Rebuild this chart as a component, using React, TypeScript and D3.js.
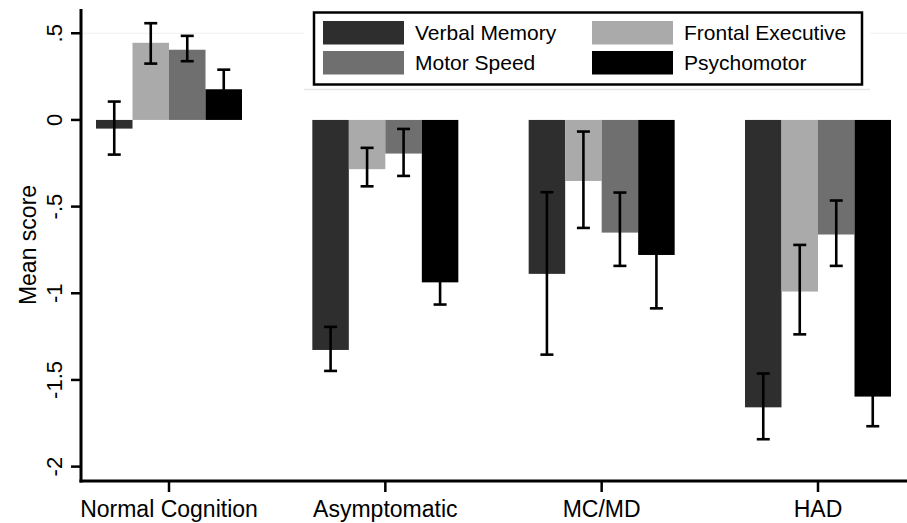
import React from "react";
import * as d3 from "d3";

const categories = ["Normal Cognition", "Asymptomatic", "MC/MD", "HAD"];
const seriesNames = ["Verbal Memory", "Frontal Executive", "Motor Speed", "Psychomotor"];
const seriesColors = ["#2e2e2e", "#aaaaaa", "#6f6f6f", "#000000"];

const verbalMemory = [-0.05, -1.327, -0.888, -1.658];
const frontalExecutive = [0.445, -0.284, -0.352, -0.99];
const motorSpeed = [0.405, -0.194, -0.65, -0.661];
const psychomotor = [0.177, -0.937, -0.779, -1.596];

const verbalMemoryLo = [-0.2, -1.448, -1.354, -1.842];
const verbalMemoryHi = [0.106, -1.194, -0.417, -1.463];
const frontalExecutiveLo = [0.325, -0.383, -0.623, -1.237];
const frontalExecutiveHi = [0.558, -0.161, -0.067, -0.721];
const motorSpeedLo = [0.339, -0.323, -0.842, -0.842];
const motorSpeedHi = [0.485, -0.052, -0.419, -0.465];
const psychomotorLo = [0.065, -1.065, -1.087, -1.767];
const psychomotorHi = [0.29, -0.809, -0.471, -1.425];

const yTicks = [0.5, 0, -0.5, -1, -1.5, -2];
const yTickLabels = [".5", "0", "-.5", "-1", "-1.5", "-2"];

const means = [verbalMemory, frontalExecutive, motorSpeed, psychomotor];
const los = [verbalMemoryLo, frontalExecutiveLo, motorSpeedLo, psychomotorLo];
const his = [verbalMemoryHi, frontalExecutiveHi, motorSpeedHi, psychomotorHi];

const W = 907;
const H = 523;
const font = "'Liberation Sans', Arial, Helvetica, sans-serif";

export default function App() {
  const axisX = 81;
  const axisY = 481;
  const y = d3.scaleLinear().domain([-2.083, 0.64]).range([481, 9]);
  const x0 = d3.scalePoint<string>().domain(categories).range([169, 818]);
  const x1 = d3.scaleBand<string>().domain(seriesNames).range([-73, 73]).padding(0);
  const bw = x1.bandwidth();
  const capW = 13;

  const legendItems = seriesNames.map((n, i) => ({
    name: n,
    color: seriesColors[i],
    col: i === 0 || i === 2 ? 0 : 1,
    row: i < 2 ? 0 : 1,
  }));
  const legSwX = [323, 592];
  const legTxtX = [415, 684];
  const legRowY = [21, 51];

  return (
    <svg
      width={W}
      height={H}
      style={{ position: "absolute", left: 0, top: 0, background: "#fff" }}
      fontFamily={font}
    >
      <rect x={0} y={0} width={W} height={H} fill="#fff" />
      {/* faint gridline */}
      <line x1={axisX} x2={W} y1={y(0.5)} y2={y(0.5)} stroke="#efefef" strokeWidth={1} />

      {/* bars */}
      {categories.map((c, ci) => (
        <g key={c}>
          {seriesNames.map((s, si) => {
            const v = means[si][ci];
            const bx = (x0(c) as number) + (x1(s) as number);
            const top = Math.min(y(v), y(0));
            const h = Math.abs(y(v) - y(0));
            return (
              <rect key={s} x={bx} y={top} width={bw} height={h} fill={seriesColors[si]} />
            );
          })}
        </g>
      ))}

      {/* error bars */}
      {categories.map((c, ci) => (
        <g key={c + "e"}>
          {seriesNames.map((s, si) => {
            const cx = (x0(c) as number) + (x1(s) as number) + bw / 2;
            const yl = y(los[si][ci]);
            const yh = y(his[si][ci]);
            return (
              <g key={s} stroke="#000" strokeWidth={2.6}>
                <line x1={cx} x2={cx} y1={yl} y2={yh} />
                <line x1={cx - capW / 2} x2={cx + capW / 2} y1={yl} y2={yl} />
                <line x1={cx - capW / 2} x2={cx + capW / 2} y1={yh} y2={yh} />
              </g>
            );
          })}
        </g>
      ))}

      {/* axes */}
      <line x1={axisX} x2={axisX} y1={9} y2={axisY + 1.5} stroke="#000" strokeWidth={3} />
      <line x1={axisX - 1.5} x2={W} y1={axisY} y2={axisY} stroke="#000" strokeWidth={3} />
      {yTicks.map((t, i) => (
        <g key={t}>
          <line x1={axisX - 10} x2={axisX} y1={y(t)} y2={y(t)} stroke="#000" strokeWidth={2.5} />
          <text
            transform={`translate(62,${y(t)}) rotate(-90)`}
            textAnchor="middle"
            fontSize={22}
            fill="#000"
          >
            {yTickLabels[i]}
          </text>
        </g>
      ))}
      <text
        transform={`translate(36,${(9 + axisY) / 2}) rotate(-90)`}
        textAnchor="middle"
        fontSize={23}
        fill="#000"
      >
        Mean score
      </text>
      {categories.map((c) => (
        <g key={c + "t"}>
          <line
            x1={x0(c) as number}
            x2={x0(c) as number}
            y1={axisY}
            y2={axisY + 11}
            stroke="#000"
            strokeWidth={2.5}
          />
          <text x={x0(c) as number} y={517} textAnchor="middle" fontSize={23} fill="#000">
            {c}
          </text>
        </g>
      ))}

      {/* legend */}
      <rect x={304} y={0} width={566} height={89} fill="#fff" />
      <line x1={304} x2={870} y1={89.5} y2={89.5} stroke="#e6e6e6" strokeWidth={1.5} />
      <rect x={314} y={12.5} width={548} height={72} fill="#fff" stroke="#000" strokeWidth={2.5} />
      {legendItems.map((it) => (
        <g key={it.name}>
          <rect
            x={legSwX[it.col]}
            y={legRowY[it.row]}
            width={81}
            height={23.5}
            fill={it.color}
          />
          <text
            x={legTxtX[it.col]}
            y={legRowY[it.row] + 19}
            fontSize={21}
            fill="#000"
          >
            {it.name}
          </text>
        </g>
      ))}
    </svg>
  );
}
